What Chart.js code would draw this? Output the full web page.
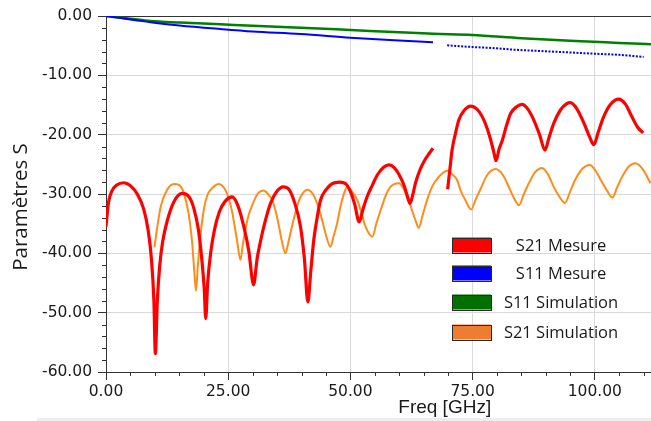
<!DOCTYPE html>
<html>
<head>
<meta charset="utf-8">
<script src="https://cdn.jsdelivr.net/npm/chart.js@4/dist/chart.umd.min.js"></script>
<style>
  html, body { margin: 0; padding: 0; background: #ffffff; }
  #wrap { position: relative; width: 651px; height: 421px; }
  #frame { position: absolute; left: 37px; top: 418px; width: 614px; height: 3px; background: #eeeeee; }
</style>
</head>
<body>
<div id="wrap">
  <canvas id="c" width="651" height="421"></canvas>
  <div id="frame"></div>
</div>
<script>
// ---- Data ----
const seriesLabels = ["S21 Mesure", "S11 Mesure", "S11 Simulation", "S21 Simulation"];

const s21MesFreq = [0,0.5,1.2,2.2,3.6,5.0,6.4,7.7,8.6,9.3,9.8,10.1,10.5,11.0,11.6,12.5,13.9,15.6,17.0,18.0,18.9,19.6,20.1,20.4,20.8,21.4,22.2,23.2,24.4,25.8,27.0,28.2,29.2,30.2,30.9,31.6,32.6,33.7,35.0,36.3,37.5,38.6,39.8,40.6,41.3,41.9,42.5,43.3,43.9,45.0,46.2,47.8,49.2,50.2,50.9,51.8,52.6,53.4,54.5,55.5,56.8,57.9,59.0,60.0,61.0,61.7,62.2,62.8,63.3,64.2,65.0,66.0,66.9,67.4,69.9,70.4,70.8,71.5,72.2,73.3,74.6,75.9,77.0,78.0,78.7,79.3,79.8,80.4,81.1,82.0,82.8,84.0,85.1,86.3,87.5,88.7,89.8,90.6,91.6,93.0,94.2,95.0,96.3,97.8,98.9,99.8,100.7,101.8,103.2,104.9,106.3,107.6,108.8,109.9];
const s21MesDb   = [-35.5,-31.5,-29.5,-28.5,-28.1,-28.6,-30.0,-32.5,-36,-41,-48,-56.9,-48,-42,-38,-34.6,-31.3,-29.9,-30.5,-32.5,-36,-41,-46,-51.0,-45,-40.0,-36,-33,-31.2,-30.5,-32,-35.5,-39.5,-45.3,-41,-38,-34.5,-31.5,-29.5,-28.8,-29.3,-31.5,-35.5,-41,-48.2,-43,-37.8,-33.5,-31.0,-29.3,-28.3,-28.0,-28.4,-30,-31.8,-34.7,-32.5,-30.5,-28.5,-26.8,-25.5,-25.1,-25.6,-26.8,-28.6,-30.5,-31.6,-30.0,-28.2,-26,-24.6,-23.3,-22.3,null,-29.2,-25.5,-22.6,-19.8,-17.5,-15.9,-15.2,-15.7,-17.0,-19.0,-20.9,-22.8,-24.4,-22.5,-20.9,-18.3,-16.4,-15.3,-14.9,-15.7,-17.5,-20.0,-22.6,-20.6,-18.1,-15.8,-14.8,-14.6,-15.6,-18.1,-20.3,-21.7,-19.6,-17.0,-14.9,-14.0,-14.9,-17.0,-18.8,-19.7];

const s11MesFreq = [0,3,6,9.1,15,23.4,30,39.8,50,58,66.9,68.3,69.8,74.9,80,83.4,90,95,99.8,105,110];
const s11MesDb   = [0,-0.35,-0.7,-1.06,-1.6,-2.19,-2.6,-3.03,-3.65,-4.05,-4.44,null,-4.94,-5.22,-5.45,-5.67,-5.95,-6.15,-6.35,-6.55,-6.9];

const s11SimFreq = [0,5,9.1,15,23.4,30,39.8,50,60,67,74.9,85,92,99.7,105,111.5];
const s11SimDb   = [0,-0.45,-0.84,-1.1,-1.4,-1.65,-1.97,-2.36,-2.75,-3.0,-3.2,-3.75,-4.05,-4.33,-4.55,-4.77];

const s21SimFreq = [9.9,10.5,11.2,12.5,13.9,15.0,15.9,16.9,17.6,18.0,18.4,18.8,19.2,20.0,20.7,21.4,23.1,24.4,25.2,25.8,26.8,27.5,28.0,28.5,29.2,29.9,31.0,32.3,33.3,34.0,34.8,35.4,36.0,36.7,37.4,38.1,39.1,39.8,41.2,42.3,43.2,44.1,44.9,45.9,46.6,47.3,48.0,48.7,49.3,50.3,51.4,52.3,53.1,54.5,55.3,56.2,57.2,58.2,59.9,60.8,61.6,62.5,63.3,64.0,64.8,65.7,66.7,67.8,69.8,71.0,71.8,72.6,73.5,74.7,75.6,76.6,78.0,79.7,81.2,82.4,83.4,84.5,85.5,86.5,87.8,89.2,90.5,91.6,92.8,93.9,95.0,96.0,97.5,99.0,100.1,101.2,102.4,103.6,104.6,105.6,106.9,108.3,109.8,111.4];
const s21SimDb   = [-39.0,-35.5,-32.1,-29.3,-28.3,-28.5,-29.8,-33.3,-38,-42.3,-46.3,-42,-38,-32.7,-30.3,-29.3,-28.3,-29.3,-31,-33.0,-37.8,-41.1,-38.5,-36.1,-33.5,-31.9,-30.0,-29.4,-30.2,-31.0,-33.2,-35.5,-38.0,-40.0,-37.8,-35.3,-32.1,-30.5,-29.3,-30.0,-31.6,-34.0,-36.6,-38.9,-37.0,-34.9,-32.0,-29.9,-28.8,-29.5,-31.0,-33.3,-35.5,-37.2,-35,-32.7,-30.3,-28.8,-28.2,-29.0,-30.5,-32.5,-34.4,-35.7,-33.5,-31.0,-28.8,-27.4,-26.1,-26.8,-27.6,-29.5,-31.0,-32.6,-31.0,-29.2,-26.8,-25.8,-26.8,-28.8,-30.6,-31.9,-30.0,-28.2,-26.3,-25.6,-26.8,-28.8,-30.5,-31.5,-29.5,-27.6,-25.7,-25.1,-26.0,-27.6,-29.3,-30.6,-28.8,-27.1,-25.4,-24.8,-25.8,-28.2];

const xTickValues = [0, 25, 50, 75, 100];
const yTickValues = [0, -10, -20, -30, -40, -50, -60];
const xTitle = "Freq [GHz]";
const yTitle = "Paramètres S";

// ---- helpers ----
function pts(xs, ys) { return xs.map((x, i) => ({ x: x, y: ys[i] })); }

const lineColors   = ["#ff0000", "#0000ff", "#008000", "#ff8c1a"];
const legendColors = ["#ff0000", "#0000ff", "#007000", "#ed7d31"];
const widths = [3.2, 2, 2.5, 2];

const tickFont = { family: "DejaVu Sans", size: 15.5 };

// minor ticks
const minorTicks = {
  id: 'minorTicks',
  afterDraw(chart) {
    const ctx = chart.ctx, xs = chart.scales.x, ys = chart.scales.y, a = chart.chartArea;
    ctx.save();
    ctx.strokeStyle = '#333';
    ctx.lineWidth = 1;
    ctx.beginPath();
    for (let v = ys.min; v <= ys.max + 1e-9; v += 2) {
      if (Math.abs(v % 10) < 1e-9) continue;
      const y = Math.round(ys.getPixelForValue(v)) + 0.5;
      ctx.moveTo(a.left - 4, y); ctx.lineTo(a.left, y);
    }
    for (let v = 0; v <= xs.max + 1e-9; v += 5) {
      if (Math.abs(v % 25) < 1e-9) continue;
      const x = Math.round(xs.getPixelForValue(v)) + 0.5;
      ctx.moveTo(x, a.bottom); ctx.lineTo(x, a.bottom + 4);
    }
    ctx.stroke();
    ctx.restore();
  }
};

// axis titles (placed as in the reference)
const axisTitles = {
  id: 'axisTitles',
  afterDraw(chart) {
    const ctx = chart.ctx, xs = chart.scales.x, a = chart.chartArea;
    ctx.save();
    ctx.fillStyle = '#1a1a1a';
    ctx.textAlign = 'center';
    ctx.textBaseline = 'middle';
    ctx.font = '19px "Liberation Sans", Arial, sans-serif';
    ctx.fillText(xTitle, xs.getPixelForValue(69.3), a.bottom + 36);
    ctx.translate(21.5, (a.top + a.bottom) / 2 + 13);
    ctx.rotate(-Math.PI / 2);
    ctx.font = '20.5px "Open Sans", sans-serif';
    ctx.fillText(yTitle, 0, 0);
    ctx.restore();
  }
};

// legend inside plot area
const boxLegend = {
  id: 'boxLegend',
  afterDraw(chart) {
    const ctx = chart.ctx, a = chart.chartArea;
    ctx.save();
    ctx.font = '16.5px "Open Sans", sans-serif';
    ctx.textBaseline = 'middle';
    ctx.textAlign = 'center';
    const bx = a.left + 346, bw = 39, bh = 15;
    const rows = [229, 257, 286, 316];
    chart.data.datasets.forEach((ds, i) => {
      const cy = a.top + rows[i];
      ctx.fillStyle = legendColors[i];
      ctx.fillRect(bx, cy - bh / 2, bw, bh);
      ctx.strokeStyle = '#2a2a2a';
      ctx.lineWidth = 1;
      ctx.strokeRect(bx + 0.5, Math.round(cy - bh / 2) + 0.5, bw, bh);
      ctx.fillStyle = '#1a1a1a';
      ctx.fillText(ds.label, a.left + 455, cy + 1);
    });
    ctx.restore();
  }
};

const datasets = [
  { label: seriesLabels[0], data: pts(s21MesFreq, s21MesDb) },
  { label: seriesLabels[1], data: pts(s11MesFreq, s11MesDb),
    segment: { borderDash: c => (c.p0.parsed.x >= 69) ? [2, 1.5] : undefined } },
  { label: seriesLabels[2], data: pts(s11SimFreq, s11SimDb) },
  { label: seriesLabels[3], data: pts(s21SimFreq, s21SimDb) }
].map((d, i) => Object.assign(d, {
  borderColor: lineColors[i],
  backgroundColor: lineColors[i],
  borderWidth: widths[i],
  pointRadius: 0,
  fill: false,
  spanGaps: false,
  cubicInterpolationMode: 'monotone'
}));

new Chart(document.getElementById('c'), {
  type: 'line',
  data: { datasets: datasets },
  options: {
    responsive: false,
    animation: false,
    devicePixelRatio: 1,
    layout: { padding: { top: 16, right: 0, left: 0, bottom: 0 } },
    plugins: { legend: { display: false }, tooltip: { enabled: false } },
    scales: {
      x: {
        type: 'linear',
        min: 0, max: 111.5,
        afterFit(s) { s.height = 49; },
        afterBuildTicks(s) { s.ticks = xTickValues.map(v => ({ value: v })); },
        ticks: { font: tickFont, color: '#1a1a1a', padding: 3, maxRotation: 0, autoSkip: false,
                 callback: v => Number(v).toFixed(2) },
        grid: { color: '#d9d9d9', lineWidth: 1, tickLength: 8, tickColor: '#333' },
        border: { color: '#333', width: 1 }
      },
      y: {
        min: -60, max: 0,
        afterFit(s) { s.width = 106; },
        afterBuildTicks(s) { s.ticks = yTickValues.map(v => ({ value: v })); },
        ticks: { font: tickFont, color: '#1a1a1a', padding: 6, autoSkip: false,
                 callback: v => Number(v).toFixed(2) },
        grid: { color: c => (c.tick && c.tick.value === 0) ? '#333' : '#d9d9d9',
                lineWidth: 1, tickLength: 8, tickColor: '#333' },
        border: { color: '#333', width: 1 }
      }
    }
  },
  plugins: [minorTicks, axisTitles, boxLegend]
});
</script>
</body>
</html>
